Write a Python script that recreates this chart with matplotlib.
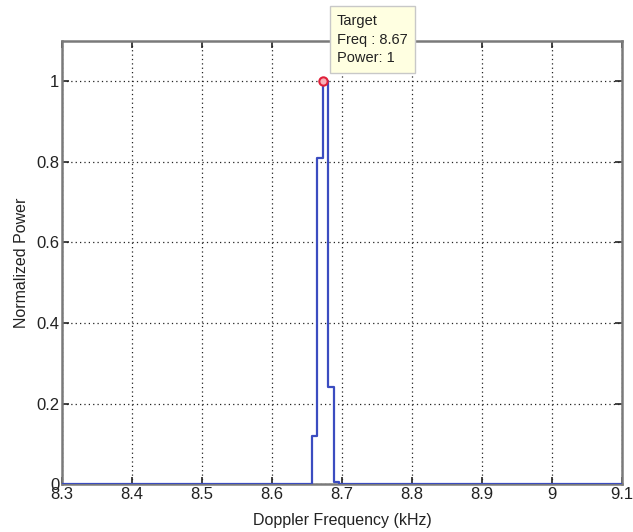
import numpy as np
import matplotlib
matplotlib.use("Agg")
import matplotlib.pyplot as plt

# ── data ──────────────────────────────────────────────────────────────────────
# step edges (kHz) and the power held from each edge to the next
freq_edges = [8.30, 8.6570, 8.6640, 8.6722, 8.6798, 8.6878, 8.6958, 9.10]
power_vals = [0.0, 0.12, 0.81, 1.00, 0.24, 0.005, 0.0, 0.0]

target_freq = 8.6722
target_power = 1.0

xticks = [8.3, 8.4, 8.5, 8.6, 8.7, 8.8, 8.9, 9.0, 9.1]
xtick_labels = ["8.3", "8.4", "8.5", "8.6", "8.7", "8.8", "8.9", "9", "9.1"]
yticks = [0, 0.2, 0.4, 0.6, 0.8, 1.0]
ytick_labels = ["0", "0.2", "0.4", "0.6", "0.8", "1"]

plt.rcParams["font.family"] = ["Liberation Sans", "DejaVu Sans"]

fig = plt.figure(figsize=(6.33, 5.32), dpi=100)
ax = fig.add_axes([0.098, 0.090, 0.885, 0.833])

ax.step(freq_edges, power_vals, where="post", color="#3b4cc0", linewidth=1.6, zorder=3)
ax.plot([target_freq], [target_power], "o", markersize=6, markerfacecolor="#f7b0b8",
        markeredgecolor="#e0203a", markeredgewidth=1.5, zorder=4, clip_on=False)

ax.set_xlim(8.3, 9.1)
ax.set_ylim(0, 1.1)
ax.set_xticks(xticks)
ax.set_xticklabels(xtick_labels)
ax.set_yticks(yticks)
ax.set_yticklabels(ytick_labels)

ax.grid(True, color="#222222", linestyle=(0, (1, 2.5)), linewidth=0.9)
ax.tick_params(direction="in", top=True, right=True, length=5, width=1.2,
               labelsize=12, colors="#222222", pad=2)
for s in ax.spines.values():
    s.set_color("#7a7a7a")
    s.set_linewidth(1.8)

ax.set_xlabel("Doppler Frequency (kHz)", fontsize=11.5, color="#222222", labelpad=8)
ax.set_ylabel("Normalized Power", fontsize=11.5, color="#222222", labelpad=5)

# data cursor tip
ax.text(8.6925, 1.168, "Target\nFreq : 8.67\nPower: 1", fontsize=10.5, color="#222222",
        va="top", ha="left", linespacing=1.45, clip_on=False, zorder=5,
        bbox=dict(boxstyle="square,pad=0.5", facecolor="#ffffe1", edgecolor="#c8c8c8"))

fig.savefig("out.png", dpi=100)
